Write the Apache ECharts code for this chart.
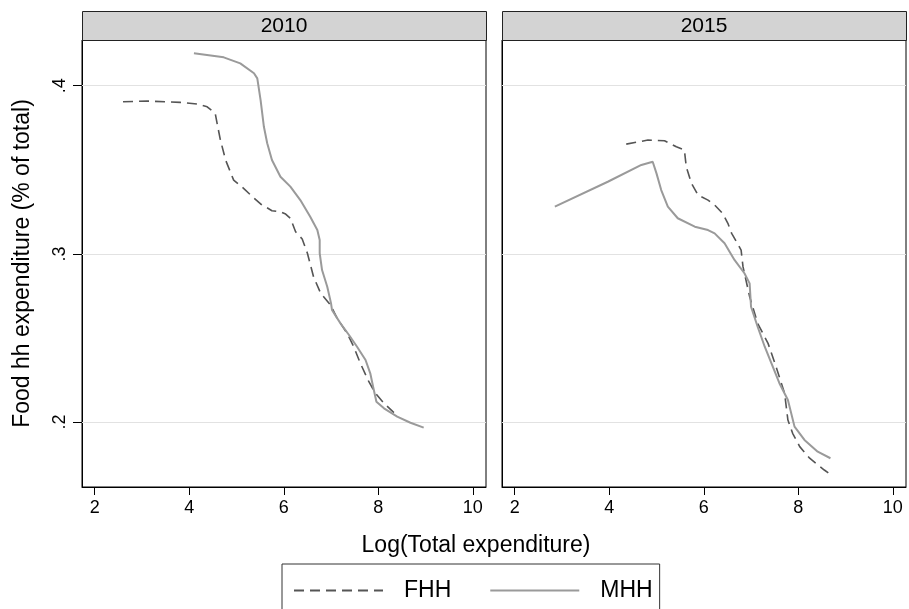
<!DOCTYPE html>
<html>
<head>
<meta charset="utf-8">
<script src="https://cdn.jsdelivr.net/npm/echarts@6/dist/echarts.min.js"></script>
<style>
html,body{margin:0;padding:0;background:#fff;}
#chart{width:909px;height:609px;}
</style>
</head>
<body>
<div id="chart"></div>
<script>
// ---- data ----
var panels = ['2010', '2015'];
var xTicks = [2, 4, 6, 8, 10];
var yTicks = [0.2, 0.3, 0.4];

var fhh2010 = [
  [2.60,0.3905],[3.11,0.3909],[3.81,0.3901],[4.17,0.3891],[4.38,0.3875],[4.55,0.3836],
  [4.59,0.3776],[4.66,0.3677],[4.77,0.3558],[4.94,0.3439],[5.15,0.3390],[5.30,0.3350],
  [5.51,0.3297],[5.75,0.3257],[5.93,0.3251],[6.04,0.3237],[6.14,0.3212],[6.25,0.3132],
  [6.39,0.3089],[6.42,0.3083],[6.50,0.3004],[6.63,0.2864],[6.78,0.2766],[6.99,0.2696],
  [7.13,0.2617],[7.34,0.2528],[7.48,0.2448],[7.62,0.2350],[7.80,0.2240],[7.94,0.2171],
  [8.12,0.2112],[8.33,0.2056]
];
var mhh2010 = [
  [4.10,0.4193],[4.73,0.4169],[5.08,0.4133],[5.37,0.4074],[5.44,0.4044],[5.51,0.3915],
  [5.58,0.3756],[5.65,0.3658],[5.75,0.3558],[5.93,0.3459],[6.14,0.3400],[6.35,0.3320],
  [6.56,0.3221],[6.71,0.3142],[6.76,0.3083],[6.76,0.3004],[6.81,0.2904],[6.92,0.2805],
  [7.00,0.2706],[7.02,0.2667],[7.20,0.2587],[7.38,0.2518],[7.55,0.2448],[7.73,0.2369],
  [7.83,0.2290],[7.89,0.2210],[7.96,0.2121],[8.12,0.2082],[8.40,0.2032],[8.68,0.1996],
  [8.96,0.1967]
];
var fhh2015 = [
  [4.36,0.3653],[4.82,0.3677],[5.17,0.3673],[5.42,0.3637],[5.59,0.3618],[5.63,0.3518],
  [5.74,0.3420],[5.88,0.3350],[6.09,0.3320],[6.23,0.3291],[6.40,0.3241],[6.51,0.3182],
  [6.59,0.3122],[6.79,0.3023],[6.83,0.2924],[6.97,0.2746],[7.14,0.2587],[7.36,0.2468],
  [7.53,0.2329],[7.71,0.2171],[7.78,0.2012],[7.88,0.1933],[8.03,0.1854],[8.24,0.1785],
  [8.55,0.1715],[8.68,0.1689]
];
var mhh2015 = [
  [2.85,0.3281],[3.97,0.3429],[4.68,0.3529],[4.92,0.3548],[5.00,0.3479],[5.10,0.3380],
  [5.24,0.3281],[5.45,0.3212],[5.81,0.3162],[6.09,0.3142],[6.23,0.3122],[6.44,0.3063],
  [6.65,0.2964],[6.86,0.2885],[6.97,0.2825],[7.00,0.2686],[7.14,0.2567],[7.29,0.2448],
  [7.43,0.2350],[7.60,0.2231],[7.78,0.2131],[7.92,0.1973],[8.13,0.1894],[8.41,0.1824],
  [8.68,0.1785]
];

var xTitle = 'Log(Total expenditure)';
var yTitle = 'Food hh expenditure (% of total)';
var seriesNames = ['FHH', 'MHH'];

// ---- chart ----
var FONT = '"Liberation Sans", Arial, Helvetica, sans-serif';
var chart = echarts.init(document.getElementById('chart'), null, {renderer: 'canvas'});

var gridDefs = [
  {left: 82, top: 40, width: 404, height: 447},
  {left: 502, top: 40, width: 404, height: 447}
];
var xMin = 1.732, xMax = 10.278, yMin = 0.1614, yMax = 0.4272;

function xAxisDef(i) {
  return {
    type: 'value', gridIndex: i, min: xMin, max: xMax,
    axisLine: {show: true, onZero: false, lineStyle: {color: '#000', width: 1}},
    axisTick: {show: true, length: 8, customValues: xTicks, lineStyle: {color: '#000', width: 1}},
    axisLabel: {show: true, customValues: xTicks, margin: 12, fontSize: 18, color: '#000', fontFamily: FONT},
    splitLine: {show: false}
  };
}
function yAxisDef(i) {
  var first = (i === 0);
  return {
    type: 'value', gridIndex: i, min: yMin, max: yMax,
    name: first ? yTitle : '', nameLocation: 'middle', nameRotate: 90, nameGap: 48,
    nameTextStyle: {fontSize: 23, color: '#000', fontFamily: FONT},
    axisLine: {show: true, onZero: false, lineStyle: {color: '#000', width: 1}},
    axisTick: {show: first, length: 9, customValues: yTicks, lineStyle: {color: '#000', width: 1}},
    axisLabel: {show: first, customValues: yTicks, rotate: 90, margin: 13, fontSize: 18, color: '#000', fontFamily: FONT,
      formatter: function (v) { return String(Math.round(v * 10) / 10).replace(/^0\./, '.'); }},
    splitLine: {show: false}
  };
}

var dashStyle = {color: '#555555', width: 1.6, type: [10, 6]};
var solidStyle = {color: '#9a9a9a', width: 2, type: 'solid'};
var data = [[fhh2010, mhh2010], [fhh2015, mhh2015]];

var series = [];
for (var i = 0; i < 2; i++) {
  series.push({
    type: 'line', xAxisIndex: i, yAxisIndex: i, data: [], silent: true,
    markLine: {
      silent: true, symbol: 'none', z: 1, animation: false,
      label: {show: false},
      lineStyle: {color: '#e2e2e2', width: 1, type: 'solid'},
      emphasis: {disabled: true},
      data: yTicks.map(function (v) { return {yAxis: v}; })
    }
  });
  series.push({
    name: seriesNames[0], type: 'line', xAxisIndex: i, yAxisIndex: i,
    data: data[i][0], symbol: 'none', showSymbol: false, smooth: false,
    lineStyle: dashStyle, itemStyle: {color: dashStyle.color}, z: 3
  });
  series.push({
    name: seriesNames[1], type: 'line', xAxisIndex: i, yAxisIndex: i,
    data: data[i][1], symbol: 'none', showSymbol: false, smooth: false,
    lineStyle: solidStyle, itemStyle: {color: solidStyle.color}, z: 3
  });
}

var graphics = [];
panels.forEach(function (p, i) {
  var g = gridDefs[i];
  graphics.push({
    type: 'rect', left: g.left, top: 11, z: 10,
    shape: {width: g.width, height: 29},
    style: {fill: '#d3d3d3', stroke: '#222', lineWidth: 1}
  });
  graphics.push({
    type: 'text', z: 11, x: g.left + g.width / 2, y: 26,
    style: {text: p, fontSize: 21, fill: '#000', font: '21px ' + FONT, textAlign: 'center', textVerticalAlign: 'middle'}
  });
});
graphics.push({
  type: 'text', z: 11, x: 476, y: 546,
  style: {text: xTitle, font: '23px ' + FONT, fill: '#000', textAlign: 'center', textVerticalAlign: 'middle'}
});

chart.setOption({
  animation: false,
  backgroundColor: '#fff',
  grid: gridDefs.map(function (g) {
    return {left: g.left, top: g.top, width: g.width, height: g.height, show: true,
      borderColor: '#000', borderWidth: 1, backgroundColor: '#fff', containLabel: false};
  }),
  xAxis: [xAxisDef(0), xAxisDef(1)],
  yAxis: [yAxisDef(0), yAxisDef(1)],
  legend: {
    data: seriesNames, left: 282, top: 564, orient: 'horizontal',
    padding: [15, 7, 40, 11], itemWidth: 89, itemHeight: 14, itemGap: 38,
    borderColor: '#333', borderWidth: 1, backgroundColor: '#fff',
    itemStyle: {opacity: 0},
    textStyle: {fontSize: 23, color: '#000', fontFamily: FONT, padding: [0, 0, 0, 16]},
    selectedMode: false
  },
  graphic: graphics,
  series: series
});
</script>
</body>
</html>
